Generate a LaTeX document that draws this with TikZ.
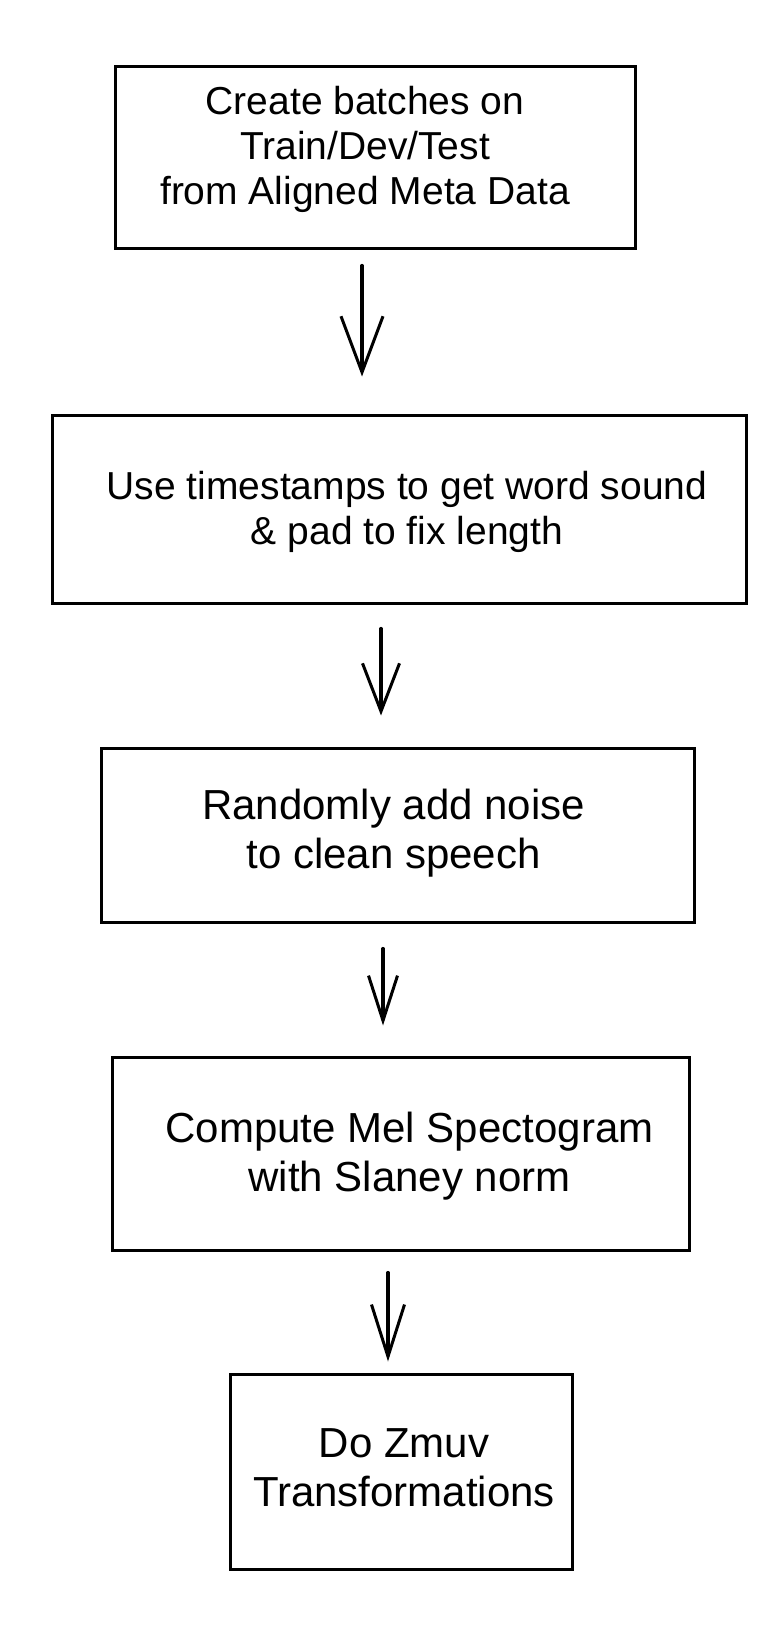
\documentclass[tikz,border=0pt]{standalone}
\usepackage{fontspec}
\setmainfont{Liberation Sans}
\usetikzlibrary{arrows.meta}

% Text block of a step, moved by 2*dx and raised by dy
\newcommand{\steplines}[3]{\raisebox{#2}[0pt][0pt]{\makebox[0pt][c]{\hspace*{#1}\begin{tabular}{@{}c@{}}#3\end{tabular}}}}

\begin{document}
\begin{tikzpicture}[
    x=1pt, y=-1pt,
    line width=3pt,
    stepbox/.style={draw, rectangle, inner sep=0pt,
        font=\fontsize{39}{45}\selectfont},
    bigtext/.style={font=\fontsize{42}{49}\selectfont},
    flow/.style={line width=3.2pt, line cap=round, -{Straight Barb[length=48pt, width=37pt, line width=3pt]}}
]
    \useasboundingbox (0,0) rectangle (782,1638);

    % Processing steps
    \node[stepbox, minimum width=520pt, minimum height=182pt] (batches) at (375, 157)
        {\steplines{-20pt}{0.5pt}{Create batches on\\Train/Dev/Test\\from Aligned Meta Data}};
    \node[stepbox, minimum width=694pt, minimum height=188pt] (timestamps) at (399, 509)
        {\steplines{16pt}{-10.5pt}{Use timestamps to get word sound\\\& pad to fix length}};
    \node[stepbox, bigtext, minimum width=593pt, minimum height=174pt] (noise) at (397.5, 835)
        {\steplines{-8pt}{-5pt}{Randomly add noise\\to clean speech}};
    \node[stepbox, bigtext, minimum width=577pt, minimum height=193pt] (mel) at (400.5, 1153.5)
        {\steplines{18pt}{-10pt}{Compute Mel Spectogram\\with Slaney norm}};
    \node[stepbox, bigtext, minimum width=342pt, minimum height=195pt] (zmuv) at (401, 1471.5)
        {\steplines{6pt}{-6.5pt}{Do Zmuv\\Transformations}};

    % Connections
    \draw[flow, -{Straight Barb[length=56pt, width=42pt, line width=3pt]}]
        ([xshift=-13pt, yshift=-16pt]batches.south) -- ([xshift=-37pt, yshift=37pt]timestamps.north);
    \draw[flow] ([xshift=-18pt, yshift=-24pt]timestamps.south) -- ([xshift=-16.5pt, yshift=31pt]noise.north);
    \draw[flow, -{Straight Barb[length=45pt, width=29pt, line width=3pt]}]
        ([xshift=-14.5pt, yshift=-25pt]noise.south) -- ([xshift=-17.5pt, yshift=30pt]mel.north);
    \draw[flow, -{Straight Barb[length=52pt, width=33pt, line width=3pt]}]
        ([xshift=-12.5pt, yshift=-21pt]mel.south) -- ([xshift=-13pt, yshift=11pt]zmuv.north);

\end{tikzpicture}
\end{document}
